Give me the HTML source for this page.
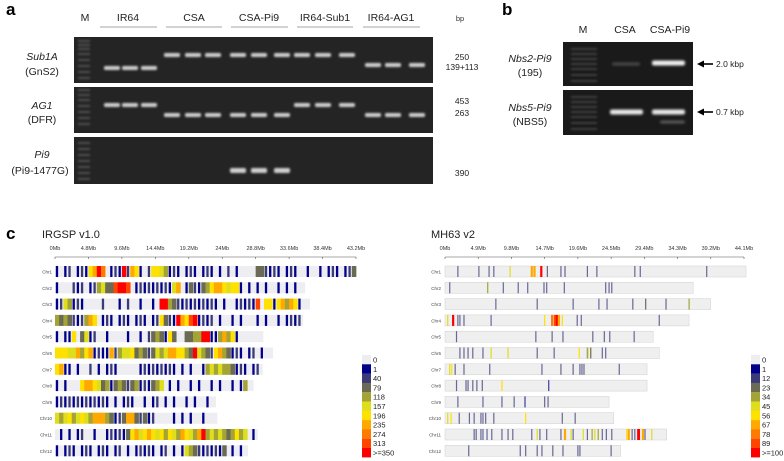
<!DOCTYPE html>
<html><head><meta charset="utf-8">
<style>
html,body{margin:0;padding:0;background:#fff;}
body{width:784px;height:461px;overflow:hidden;font-family:"Liberation Sans",sans-serif;}
svg{display:block}
</style></head>
<body>
<svg id="fig" width="784" height="461" viewBox="0 0 784 461" xmlns="http://www.w3.org/2000/svg">
<defs>
<filter id="blur1" x="-50%" y="-200%" width="200%" height="500%"><feGaussianBlur stdDeviation="1.1"/></filter>
<filter id="blur2" x="-50%" y="-200%" width="200%" height="500%"><feGaussianBlur stdDeviation="1.4"/></filter>
</defs>
<g font-family="Liberation Sans, sans-serif">
<text x="6" y="15" font-size="17" font-weight="bold">a</text>
<text x="85" y="21" font-size="10.5" text-anchor="middle" fill="#222">M</text>
<text x="128" y="21" font-size="10.5" text-anchor="middle" fill="#222">IR64</text>
<text x="194" y="21" font-size="10.5" text-anchor="middle" fill="#222">CSA</text>
<text x="259" y="21" font-size="10.5" text-anchor="middle" fill="#222">CSA-Pi9</text>
<text x="325" y="21" font-size="10.5" text-anchor="middle" fill="#222">IR64-Sub1</text>
<text x="391" y="21" font-size="10.5" text-anchor="middle" fill="#222">IR64-AG1</text>
<g stroke="#888" stroke-width="0.8">
<line x1="100" y1="27" x2="157" y2="27"/><line x1="166" y1="27" x2="222" y2="27"/><line x1="231" y1="27" x2="288" y2="27"/><line x1="297" y1="27" x2="353" y2="27"/><line x1="363" y1="27" x2="420" y2="27"/>
</g>
<text x="460" y="21" font-size="7.5" text-anchor="middle" fill="#333">bp</text>
<g id="gelA"></g>
<g font-size="10.5" text-anchor="middle" fill="#222">
<text x="42" y="60" font-style="italic">Sub1A</text>
<text x="42" y="75">(GnS2)</text>
<text x="42" y="109" font-style="italic">AG1</text>
<text x="42" y="123">(DFR)</text>
<text x="42" y="158" font-style="italic">Pi9</text>
<text x="40" y="174">(Pi9-1477G)</text>
</g>
<g font-size="8.5" text-anchor="middle" fill="#222">
<text x="462" y="60">250</text>
<text x="462" y="70">139+113</text>
<text x="462" y="104">453</text>
<text x="462" y="116">263</text>
<text x="462" y="176">390</text>
</g>
</g>
<g>
<text x="502" y="15" font-size="17" font-weight="bold">b</text>
<text x="583" y="33" font-size="10.5" text-anchor="middle" fill="#222">M</text>
<text x="625" y="33" font-size="10.5" text-anchor="middle" fill="#222">CSA</text>
<text x="670" y="33" font-size="10.5" text-anchor="middle" fill="#222">CSA-Pi9</text>
<g id="gelB"></g>
<g font-size="10.5" text-anchor="middle" fill="#222">
<text x="530" y="62" font-style="italic">Nbs2-Pi9</text>
<text x="530" y="76">(195)</text>
<text x="530" y="111" font-style="italic">Nbs5-Pi9</text>
<text x="530" y="125">(NBS5)</text>
</g>
<g><line x1="702" y1="64" x2="713" y2="64" stroke="#000" stroke-width="1.6"/><polygon points="697,64 704,60.5 704,67.5" fill="#000"/></g>
<text x="716" y="67" font-size="8.5" fill="#222">2.0 kbp</text>
<g><line x1="702" y1="112" x2="713" y2="112" stroke="#000" stroke-width="1.6"/><polygon points="697,112 704,108.5 704,115.5" fill="#000"/></g>
<text x="716" y="115" font-size="8.5" fill="#222">0.7 kbp</text>
</g>
<g>
<text x="6" y="239" font-size="17" font-weight="bold">c</text>
<text x="42" y="238" font-size="11" fill="#222">IRGSP v1.0</text>
<text x="431" y="238" font-size="11" fill="#222">MH63 v2</text>
<g id="heatL"></g>
<g id="heatR"></g>
</g>
</svg>
<script>
const laneX = [112,130,149,172,193,213,238,259,282,302,323,347,373,393,417];
const sub1aBandY = [68,68,68,55,55,55,55,55,55,55,55,55,65,65,65];
const ag1BandY = [105,105,105,115,115,115,115,115,115,105,105,105,115,115,115];
const pi9BandY = [0,0,0,0,0,0,170,170,170,0,0,0,0,0,0];
const chrNames = ["Chr1","Chr2","Chr3","Chr4","Chr5","Chr6","Chr7","Chr8","Chr9","Chr10","Chr11","Chr12"];
const irgspLenMb = [43.3,35.9,36.6,35.6,29.9,31.3,29.8,28.5,23.1,23.3,29.1,27.7];
const irgspBins = [
"10120121"+"67a"+"80"+"121a2"+"76"+"102"+"6654"+"12101210121"+"0102010"+"000"+"33212"+"101210"+"010010"+"1210123",
"1000"+"2"+"12012"+"45"+"33"+"9aa9"+"0"+"121212"+"121"+"57"+"0"+"132"+"1"+"34"+"6776566"+"1"+"010101001010100",
"12"+"54"+"1210"+"000"+"2"+"00"+"01020"+"010010"+"aa"+"43"+"212"+"1212121"+"0100"+"12121"+"9"+"0"+"66"+"1"+"6"+"7"+"4"+"7"+"6"+"1",
"4343"+"212"+"4"+"76"+"0"+"121"+"01210121012"+"6"+"32"+"1"+"a"+"7"+"6"+"9a"+"1212"+"010010100010100"+"10121210",
"101"+"1"+"6"+"0"+"35"+"12"+"00"+"1"+"000"+"010010"+"2"+"343"+"1"+"6"+"30"+"0"+"3344"+"aa"+"1"+"1"+"474"+"6"+"1",
"666"+"55"+"7"+"4"+"67"+"121"+"172"+"4556"+"34323"+"545"+"77"+"66"+"43"+"a"+"54"+"32"+"67"+"43"+"121012"+"01",
"67"+"1"+"101"+"00"+"2"+"0"+"101210"+"0000"+"121212"+"12101"+"01001"+"45454"+"43"+"121012",
"101"+"000"+"67765"+"341"+"343234"+"121"+"345"+"0101001010010100101"+"4",
"12121212121210101210"+"010120101001010010",
"545645654"+"777"+"43"+"12"+"3"+"77"+"323"+"12"+"000"+"010101001",
"01010"+"12"+"00100"+"12121"+"3"+"675676"+"5646"+"5476547"+"a"+"4545434"+"645"+"0"+"1",
"1012101210121012010121210120101"+"54"+"32121213"+"010100"
];
const irgspTicks = ["0Mb","4.8Mb","9.6Mb","14.4Mb","19.2Mb","24Mb","28.8Mb","33.6Mb","38.4Mb","43.2Mb"];
const irgspTickMb = [0,4.8,9.6,14.4,19.2,24,28.8,33.6,38.4,43.2];
const irgspLegend = ["0","1","40","79","118","157","196","235","274","313",">=350"];
const mh63LenMb = [44.4,36.6,39.2,36.0,30.7,31.6,29.8,29.8,24.2,24.9,32.7,25.9];
const mh63Events = [
"1.9:2 5.0:2 6.5:2 7.2:2 9.6:5 12.8:7 13.2:7 14.2:a 15.1:2 17.1:2 17.7:2 21.0:2 22.4:2 28.0:2 28.8:2 38.6:2",
"0.7:2 6.3:4 8.6:2 10.8:2 12.2:2 14.6:2 15.0:2 17.6:2 23.7:2 24.2:2 24.6:2",
"7.5:2 13.6:2 18.9:2 22.7:2 23.9:2 27.7:2 29.6:3 32.6:2 36.0:4",
"0.4:5 1.2:a 1.9:2 2.2:2 2.8:2 6.8:2 14.7:6 15.8:8 16.2:9 16.5:a 16.8:7 17.3:6 19.5:2 20.1:2 31.6:2",
"1.7:2 13.4:2 15.8:2 17.4:2 21.8:2 23.5:2 24.3:2 27.9:2",
"2.2:2 2.8:2 3.4:2 4.1:2 5.6:2 6.8:5 9.3:5 13.6:2 16.1:2 19.8:6 21.0:2 21.1:5 21.5:3 23.2:2 23.7:2",
"0.7:5 1.0:6 1.5:2 2.8:2 6.6:2 14.3:2 17.1:2 18.9:2 19.9:2 20.2:2 20.5:2 25.7:2",
"1.7:2 3.1:2 3.4:2 4.1:2 4.7:2 5.5:2 8.4:6 15.3:1",
"1.9:2 5.6:2 8.4:2 10.2:2 11.8:1 14.7:2 15.2:2",
"0.4:5 0.9:6 2.1:2 3.6:2 4.3:2 5.3:2 5.6:2 6.0:2 7.2:2 11.9:6 17.3:2 19.2:2",
"4.3:2 4.6:2 5.3:2 5.6:2 6.2:2 6.9:2 8.4:2 9.3:2 10.0:2 12.8:2 13.6:5 14.0:2 15.0:2 17.1:2 17.7:7 18.6:5 18.9:2 20.4:5 21.0:2 21.7:4 22.1:5 22.6:4 23.2:2 23.8:2 24.6:2 26.8:6 27.1:7 27.6:2 28.0:2 28.5:a 28.6:a 29.2:7 29.5:2 30.5:5",
"3.5:2 11.1:2 11.9:2 13.6:2 14.3:2 15.9:2 17.4:2 19.6:2 19.9:2 24.5:2"
];
const mh63Ticks = ["0Mb","4.9Mb","9.8Mb","14.7Mb","19.6Mb","24.5Mb","29.4Mb","34.3Mb","39.2Mb","44.1Mb"];
const mh63TickMb = [0,4.9,9.8,14.7,19.6,24.5,29.4,34.3,39.2,44.1];
const mh63Legend = ["0","1","12","23","34","45","56","67","78","89",">=100"];

const palette = ["#ededf2","#00008b","#3b3b78","#6a6a55","#a3a336","#dede1c","#ffe100","#ffa800","#ff7a00","#ff4500","#ff0000"];
const NS = "http://www.w3.org/2000/svg";
function mk(tag, attrs, parent){ const e=document.createElementNS(NS,tag); for(const k in attrs) e.setAttribute(k,attrs[k]); parent.appendChild(e); return e; }
function code(c){ return c==='a'?10:parseInt(c,10); }

const gelA = document.getElementById('gelA');
const gelRows = [[37,83,sub1aBandY],[87,133,ag1BandY],[137,184,pi9BandY]];
const ladderY = [[41,45,49,54,60,66,72,78],[90,95,100,106,112,118,124],[143,149,155,161,167,173,179]];
gelRows.forEach((r,ri)=>{
  const g = mk('rect',{x:74,y:r[0],width:359,height:r[1]-r[0],fill:"#242424"},gelA);
  
  
  ladderY[ri].forEach(y=>{
    const l = mk('rect',{x:78,y:y-1,width:12,height:2,fill:"#777",opacity:0.55,filter:"url(#blur1)"},gelA);
    
    
  });
  laneX.forEach((x,li)=>{
    const y = r[2][li];
    if(!y) return;
    const b = mk('rect',{x:x-8,y:y-2,width:16,height:ri==2?5:4,rx:1.5,fill:"#cfcfcf",filter:"url(#blur1)"},gelA);
    
    
  });
});
const gelB = document.getElementById('gelB');
[[42,86],[90,135]].forEach((r,ri)=>{
  const g = mk('rect',{x:563,y:r[0],width:130,height:r[1]-r[0],fill:"#1a1a1a"},gelB);
  
  
  [6,11,16,21,26,32,38].forEach(d=>{
    const l = mk('rect',{x:571,y:r[0]+d,width:26,height:2,fill:"#666",opacity:0.5,filter:"url(#blur1)"},gelB);
    
    
  });
});
const bBands = [[612,64,28,3,"#4a4a4a"],[652,63,33,5,"#f0f0f0"],[610,112,33,5,"#e8e8e8"],[652,112,33,5,"#e8e8e8"],[660,122,25,3,"#5a5a5a"]];
bBands.forEach(b=>{
  const e = mk('rect',{x:b[0],y:b[1]-b[3]/2,width:b[2],height:b[3],rx:2,fill:b[4],filter:"url(#blur2)"},gelB);
  
  
});

function axis(parent, x0, pxPerMb, ticks, tickMb){
  const y = 257;
  const line = mk('line',{x1:x0,y1:y,x2:x0+pxPerMb*tickMb[tickMb.length-1],y2:y,stroke:"#555","stroke-width":0.6},parent);
  
  
  ticks.forEach((t,i)=>{
    const x = x0+pxPerMb*tickMb[i];
    const tk = mk('line',{x1:x,y1:y,x2:x,y2:y+2,stroke:"#555","stroke-width":0.6},parent);
    
    
    const tx = mk('text',{x:x,y:250,"font-size":5.5,"text-anchor":"middle",fill:"#333"},parent);
    tx.textContent = t;
    
    
  });
}
function legend(parent, x, labels){
  labels.forEach((lab,i)=>{
    const y = 355+i*9.3;
    const r = mk('rect',{x:x,y:y,width:9,height:9.4,fill:palette[i]},parent);
    
    
    const t = mk('text',{x:x+11,y:y+7.5,"font-size":7.5,fill:"#222"},parent);
    t.textContent = lab;
    
    
  });
}
function rowY(i){ return 266+i*16.3; }

const L = document.getElementById('heatL');
const Lx0 = 55, Lppm = 301/43.2, bin = 0.6;
axis(L, Lx0, Lppm, irgspTicks, irgspTickMb);
chrNames.forEach((n,i)=>{
  const y = rowY(i);
  const lab = mk('text',{x:52,y:y+7.5,"font-size":4.5,"text-anchor":"end",fill:"#444"},L);
  lab.textContent = n;
  
  
  const w = irgspLenMb[i]*Lppm;
  const bg = mk('rect',{x:Lx0,y:y,width:w,height:11,fill:palette[0]},L);
  
  
  const s = irgspBins[i];
  const nb = Math.floor(irgspLenMb[i]/bin);
  for(let k=0;k<nb && k<s.length;k++){
    const c = code(s[k]);
    if(c===0) continue;
    const thin = c<=2;
    const bx = Lx0 + k*bin*Lppm;
    const bw = bin*Lppm;
    const r = mk('rect',{x:thin?bx+bw*0.2:bx,y:y,width:thin?bw*0.55:bw+0.3,height:11,fill:palette[c]},L);
    
    
  }
});
legend(L, 362, irgspLegend);

const R = document.getElementById('heatR');
const Rx0 = 445, Rppm = 299/44.1;
axis(R, Rx0, Rppm, mh63Ticks, mh63TickMb);
chrNames.forEach((n,i)=>{
  const y = rowY(i);
  const lab = mk('text',{x:441,y:y+7.5,"font-size":4.5,"text-anchor":"end",fill:"#444"},R);
  lab.textContent = n;
  
  
  const bg = mk('rect',{x:Rx0,y:y,width:mh63LenMb[i]*Rppm,height:11,fill:"#efefef",stroke:"#d0d0d0","stroke-width":0.5},R);
  
  
  mh63Events[i].split(' ').forEach(ev=>{
    const p = ev.split(':');
    const c = code(p[1]);
    const wd = c>=7?2.2:1.2;
    const r = mk('rect',{x:Rx0+parseFloat(p[0])*Rppm-wd/2,y:y,width:wd,height:11,fill:palette[c],opacity:c<=2?0.75:1},R);
    
    
  });
});
legend(R, 751, mh63Legend);
</script>
</body></html>
